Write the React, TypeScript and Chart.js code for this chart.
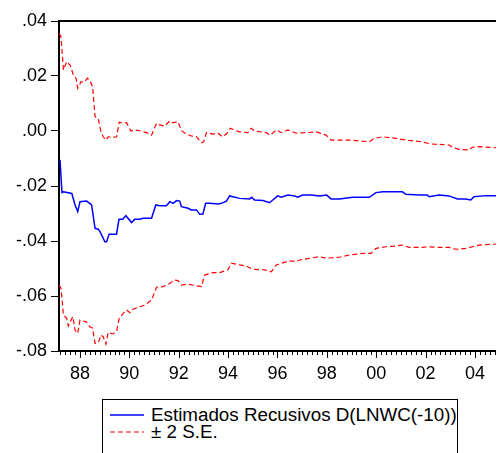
import { useEffect, useRef } from "react";
import { Chart, registerables } from "chart.js";

Chart.register(...registerables);

// Recursive estimate of D(LNWC(-10)) (x = decimal year)
const estYears = [1987.19, 1987.27, 1987.33, 1987.67, 1987.8, 1987.91, 1988.0, 1988.27, 1988.47, 1988.61, 1988.74, 1988.81, 1989.01, 1989.08, 1989.18, 1989.48, 1989.58, 1989.73, 1989.86, 1990.09, 1990.22, 1990.42, 1990.56, 1990.9, 1991.07, 1991.23, 1991.5, 1991.64, 1991.77, 1991.91, 1992.04, 1992.11, 1992.38, 1992.51, 1992.72, 1992.85, 1992.98, 1993.09, 1993.25, 1993.59, 1993.73, 1993.93, 1994.06, 1994.19, 1994.47, 1994.87, 1994.96, 1995.07, 1995.41, 1995.68, 1995.81, 1996.01, 1996.15, 1996.42, 1996.69, 1996.82, 1997.02, 1997.36, 1997.7, 1997.99, 1998.17, 1998.51, 1999.04, 1999.72, 1999.99, 2000.26, 2001.06, 2001.2, 2001.74, 2002.07, 2002.14, 2002.55, 2002.95, 2003.29, 2003.62, 2003.83, 2003.96, 2004.43, 2004.85];
const estValues = [-0.0105, -0.0224, -0.0221, -0.0227, -0.0269, -0.0293, -0.0257, -0.0255, -0.0269, -0.0354, -0.0357, -0.0366, -0.0403, -0.0403, -0.0375, -0.0375, -0.0321, -0.0321, -0.0308, -0.0333, -0.0321, -0.0321, -0.0317, -0.0317, -0.0269, -0.0272, -0.0272, -0.0257, -0.0263, -0.0253, -0.0255, -0.0275, -0.0281, -0.0287, -0.0287, -0.0303, -0.0302, -0.0263, -0.0263, -0.0265, -0.0263, -0.0255, -0.0236, -0.0239, -0.0245, -0.0247, -0.0241, -0.0251, -0.0253, -0.0261, -0.0251, -0.0236, -0.0241, -0.0233, -0.0236, -0.0241, -0.0233, -0.0233, -0.0236, -0.0233, -0.0247, -0.0247, -0.0241, -0.0241, -0.0224, -0.0221, -0.0221, -0.023, -0.0233, -0.0233, -0.0239, -0.0233, -0.0236, -0.0247, -0.0247, -0.0251, -0.0239, -0.0235, -0.0235];

// Upper band (+2 S.E.)
const upperYears = [1987.16, 1987.23, 1987.33, 1987.46, 1987.6, 1987.73, 1987.84, 1987.91, 1988.04, 1988.2, 1988.3, 1988.4, 1988.51, 1988.61, 1988.74, 1988.85, 1988.94, 1989.05, 1989.14, 1989.35, 1989.48, 1989.59, 1989.75, 1989.89, 1990.06, 1990.22, 1990.42, 1990.7, 1990.9, 1991.1, 1991.23, 1991.43, 1991.64, 1991.77, 1991.97, 1992.11, 1992.31, 1992.51, 1992.72, 1992.92, 1993.01, 1993.12, 1993.39, 1993.59, 1993.77, 1993.93, 1994.09, 1994.33, 1994.47, 1994.8, 1994.94, 1995.07, 1995.54, 1995.71, 1995.95, 1996.15, 1996.42, 1996.76, 1997.16, 1997.56, 1997.97, 1998.17, 1998.91, 1999.18, 1999.72, 1999.92, 2000.26, 2000.8, 2001.2, 2001.81, 2002.21, 2002.95, 2003.08, 2003.35, 2003.76, 2003.89, 2004.16, 2004.85];
const upperValues = [0.0355, 0.0343, 0.0222, 0.0252, 0.024, 0.0204, 0.0192, 0.0155, 0.0179, 0.0179, 0.0192, 0.0185, 0.0161, 0.0052, 0.0046, -0.0003, -0.0021, -0.0033, -0.0021, -0.0023, -0.0021, 0.0032, 0.0028, 0.003, 0.0, 0.0004, 0.0001, -0.0006, -0.0015, 0.0028, 0.0022, 0.0018, 0.0037, 0.003, 0.0034, 0.0001, -0.0011, -0.0018, -0.0021, -0.0043, -0.0039, -0.0006, -0.0011, -0.0008, -0.0021, -0.0011, 0.001, 0.0001, -0.0003, -0.0006, 0.001, 0.0, -0.0006, -0.0015, 0.0004, -0.0006, 0.0004, -0.0008, -0.0006, -0.0003, -0.0015, -0.0033, -0.0033, -0.0035, -0.0039, -0.0027, -0.0021, -0.0027, -0.0033, -0.0039, -0.0047, -0.0051, -0.0059, -0.0067, -0.0069, -0.0059, -0.0057, -0.0061];

// Lower band (-2 S.E.)
const lowerYears = [1987.16, 1987.23, 1987.33, 1987.46, 1987.53, 1987.64, 1987.71, 1987.8, 1987.91, 1988.0, 1988.13, 1988.24, 1988.4, 1988.51, 1988.61, 1988.74, 1988.85, 1988.94, 1989.05, 1989.14, 1989.32, 1989.48, 1989.59, 1989.75, 1989.89, 1990.02, 1990.15, 1990.42, 1990.63, 1990.9, 1991.1, 1991.37, 1991.64, 1991.84, 1991.97, 1992.11, 1992.38, 1992.72, 1992.92, 1993.05, 1993.39, 1993.66, 1993.99, 1994.13, 1994.47, 1994.74, 1995.0, 1995.48, 1995.75, 1995.95, 1996.15, 1996.49, 1996.76, 1996.89, 1997.29, 1997.7, 1997.97, 1998.17, 1998.51, 1998.91, 1999.45, 1999.79, 1999.99, 2000.39, 2000.8, 2001.06, 2001.33, 2001.87, 2002.14, 2002.55, 2002.95, 2003.22, 2003.62, 2003.89, 2004.16, 2004.85];
const lowerValues = [-0.056, -0.0572, -0.0669, -0.0681, -0.0709, -0.0687, -0.0675, -0.0724, -0.0736, -0.0687, -0.0691, -0.0693, -0.0712, -0.0717, -0.0772, -0.077, -0.0742, -0.0748, -0.0775, -0.0733, -0.0738, -0.073, -0.0681, -0.0663, -0.0651, -0.0661, -0.0648, -0.0639, -0.0633, -0.0615, -0.0568, -0.0566, -0.0554, -0.0542, -0.0544, -0.056, -0.0557, -0.0563, -0.0566, -0.0524, -0.0515, -0.0515, -0.0505, -0.0481, -0.0487, -0.0491, -0.0503, -0.0505, -0.0512, -0.0487, -0.0481, -0.0472, -0.0475, -0.0469, -0.0463, -0.0457, -0.0463, -0.0461, -0.0459, -0.0451, -0.0445, -0.0445, -0.0427, -0.0421, -0.0418, -0.0415, -0.0423, -0.0423, -0.0421, -0.0423, -0.0423, -0.043, -0.0427, -0.0421, -0.0415, -0.0411];

const xTickYears = [1988, 1990, 1992, 1994, 1996, 1998, 2000, 2002, 2004];
const xTickLabels = ["88", "90", "92", "94", "96", "98", "00", "02", "04"];
const yTickValues = [-0.08, -0.06, -0.04, -0.02, 0.0, 0.02, 0.04];
const yTickLabels = ["-.08", "-.06", "-.04", "-.02", ".00", ".02", ".04"];

const legendLabels = ["Estimados Recusivos D(LNWC(-10))", "\u00b1 2 S.E."];

const FONT = "'Liberation Sans', Arial, sans-serif";
const W = 497;
const H = 453;

export default function App() {
  const ref = useRef<HTMLCanvasElement>(null);

  useEffect(() => {
    const canvas = ref.current;
    if (!canvas) return;
    const pts = (xs: number[], ys: number[]) => xs.map((x, i) => ({ x, y: ys[i] }));

    const framePlugin = {
      id: "eviewsFrame",
      afterDraw(chart: any) {
        const { ctx, chartArea, scales } = chart;
        const xs = scales.x;
        ctx.save();
        ctx.strokeStyle = "#000";
        // top border
        ctx.lineWidth = 2;
        ctx.beginPath();
        ctx.moveTo(chartArea.left - 1, chartArea.top);
        ctx.lineTo(chartArea.right, chartArea.top);
        ctx.stroke();
        // x tick marks
        ctx.lineWidth = 1;
        const bottom = chartArea.bottom;
        for (let k = 0; k <= 100; k++) {
          const v = 1987 + k * 0.2;
          if (v < xs.min || v > xs.max) continue;
          const px = Math.round(xs.getPixelForValue(v)) + 0.5;
          const isMajor = Math.abs(v - Math.round(v)) < 1e-6 && Math.round(v) % 2 === 0;
          ctx.beginPath();
          ctx.moveTo(px, bottom);
          ctx.lineTo(px, bottom + (isMajor ? 7 : 4));
          ctx.stroke();
        }
        ctx.restore();
      },
    };

    const chart = new Chart(canvas, {
      type: "line",
      data: {
        datasets: [
          {
            label: "upper",
            data: pts(upperYears, upperValues),
            borderColor: "#ff0000",
            borderWidth: 1.2,
            borderDash: [5, 3],
            pointRadius: 0,
            tension: 0,
          },
          {
            label: "lower",
            data: pts(lowerYears, lowerValues),
            borderColor: "#ff0000",
            borderWidth: 1.2,
            borderDash: [5, 3],
            pointRadius: 0,
            tension: 0,
          },
          {
            label: legendLabels[0],
            data: pts(estYears, estValues),
            borderColor: "#0000ff",
            borderWidth: 1.5,
            pointRadius: 0,
            tension: 0,
          },
        ],
      },
      options: {
        animation: false,
        responsive: false,
        events: [],
        layout: { padding: { top: 21, right: 0, left: 0, bottom: 0 } },
        plugins: { legend: { display: false }, tooltip: { enabled: false } },
        scales: {
          x: {
            type: "linear",
            min: 1987.15,
            max: 2004.85,
            afterFit: (s: any) => {
              s.height = 102;
            },
            afterBuildTicks: (s: any) => {
              s.ticks = xTickYears.map((v) => ({ value: v }));
            },
            grid: { display: false, drawTicks: false },
            border: { display: true, color: "#000", width: 2 },
            ticks: {
              autoSkip: false,
              maxRotation: 0,
              padding: 12,
              color: "#000",
              font: { family: FONT, size: 18 },
              callback: (v: any) => {
                const i = xTickYears.indexOf(Math.round(Number(v)));
                return i >= 0 ? xTickLabels[i] : "";
              },
            },
          },
          y: {
            min: -0.08,
            max: 0.04,
            afterFit: (s: any) => {
              s.width = 59;
            },
            afterBuildTicks: (s: any) => {
              s.ticks = yTickValues.map((v) => ({ value: v }));
            },
            grid: { display: true, drawOnChartArea: false, drawTicks: true, tickLength: 8, color: "#000", lineWidth: 1 },
            border: { display: true, color: "#000", width: 2 },
            ticks: {
              padding: 4,
              color: "#000",
              font: { family: FONT, size: 18 },
              callback: (v: any) => {
                let best = 0;
                yTickValues.forEach((t, i) => {
                  if (Math.abs(t - Number(v)) < Math.abs(yTickValues[best] - Number(v))) best = i;
                });
                return yTickLabels[best];
              },
            },
          },
        },
      },
      plugins: [framePlugin],
    });
    return () => chart.destroy();
  }, []);

  return (
    <div style={{ position: "fixed", left: 0, top: 0, width: W, height: H, background: "#fff", overflow: "hidden" }}>
      <canvas ref={ref} width={W} height={H} style={{ display: "block", width: W, height: H }} />
      <div
        style={{
          position: "absolute",
          left: 102,
          top: 399,
          width: 356,
          height: 70,
          border: "1px solid #000",
          boxSizing: "border-box",
          background: "#fff",
          fontFamily: FONT,
          fontSize: 18.8,
          color: "#000",
          overflow: "hidden",
        }}
      >
        <div style={{ position: "absolute", left: 7, top: 5, height: 20, display: "flex", alignItems: "center", whiteSpace: "nowrap" }}>
          <svg width={34} height={4} style={{ display: "block" }}>
            <line x1={0} y1={2} x2={34} y2={2} stroke="#0000ff" strokeWidth={1.5} />
          </svg>
          <span style={{ marginLeft: 7, lineHeight: "20px" }}>{legendLabels[0]}</span>
        </div>
        <div style={{ position: "absolute", left: 7, top: 22, height: 20, display: "flex", alignItems: "center", whiteSpace: "nowrap" }}>
          <svg width={34} height={4} style={{ display: "block" }}>
            <line x1={0} y1={2} x2={34} y2={2} stroke="#ff0000" strokeWidth={1.2} strokeDasharray="5 3" />
          </svg>
          <span style={{ marginLeft: 7, lineHeight: "20px" }}>{legendLabels[1]}</span>
        </div>
      </div>
    </div>
  );
}
